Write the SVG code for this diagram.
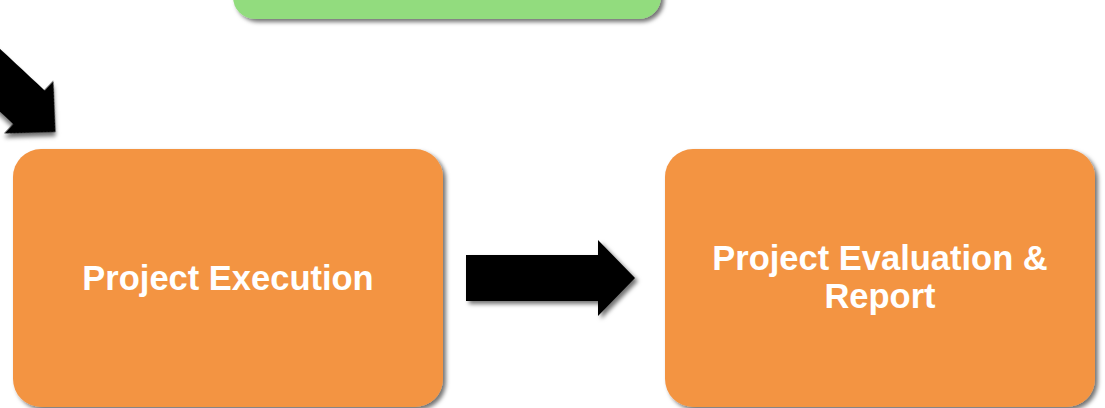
<svg xmlns="http://www.w3.org/2000/svg" width="1105" height="408" viewBox="0 0 1105 408">
  <defs>
    <filter id="sh" x="-20%" y="-20%" width="140%" height="140%">
      <feDropShadow dx="3" dy="3" stdDeviation="2" flood-color="#000" flood-opacity="0.55"/>
    </filter>
  </defs>
  <style>
    .orange { fill: #F39443; }
    .green { fill: #92DC7E; }
    .arrow { fill: #000; }
    .lbl { font-family: "Liberation Sans", Arial, sans-serif; font-weight: bold; font-size: 34.5px; fill: #fff; text-anchor: middle; }
  </style>
  <rect width="1105" height="408" fill="#fff"/>
  <g id="connectors">
    <path class="arrow" filter="url(#sh)" transform="translate(55.5,132) rotate(43)" d="M0,0 L-36.5,-36 L-36.5,-23 L-220,-23 L-220,23 L-36.5,23 L-36.5,36 Z"/>
    <path class="arrow" filter="url(#sh)" d="M466,255 L598,255 L598,240 L635,278 L598,316 L598,301 L466,301 Z"/>
  </g>
  <g id="node-top">
    <rect class="green" filter="url(#sh)" x="233" y="-60" width="428" height="79" rx="22"/>
  </g>
  <g id="node-execution">
    <rect class="orange" filter="url(#sh)" x="13" y="149" width="430" height="258" rx="28"/>
    <text class="lbl" x="228" y="290">Project Execution</text>
  </g>
  <g id="node-evaluation">
    <rect class="orange" filter="url(#sh)" x="665" y="149" width="430" height="258" rx="28"/>
    <text class="lbl" x="880" y="270">Project Evaluation &amp;</text>
    <text class="lbl" x="880" y="308">Report</text>
  </g>
</svg>
